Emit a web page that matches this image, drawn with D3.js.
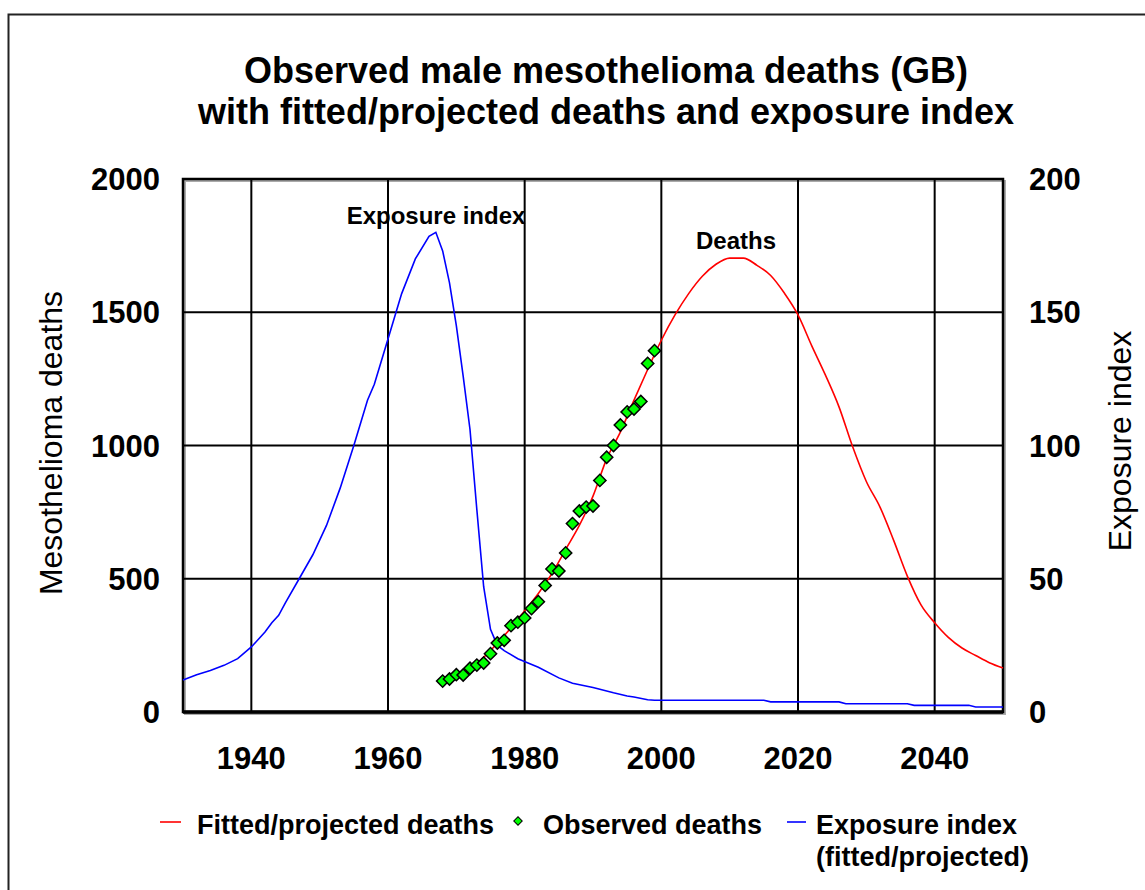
<!DOCTYPE html>
<html>
<head>
<meta charset="utf-8">
<script src="https://cdnjs.cloudflare.com/ajax/libs/d3/7.8.5/d3.min.js"></script>
<style>
  body { margin: 0; background: #fff; }
  text { font-family: "Liberation Sans", Arial, sans-serif; }
</style>
</head>
<body>
<svg id="chart" width="1145" height="890"></svg>
<script>
// observed deaths (green diamonds)
const obsYears = [1968, 1969, 1970, 1971, 1972, 1973, 1974, 1975, 1976, 1977, 1978, 1979, 1980, 1981, 1982, 1983,
  1984, 1985, 1986, 1987, 1988, 1989, 1990, 1991, 1992, 1993, 1994, 1995, 1996, 1997, 1998, 1999];
const obsDeaths = [116, 124, 140, 139, 164, 176, 184, 219, 259, 269, 324, 337, 353, 388, 414, 475,
  537, 529, 597, 707, 754, 769, 773, 869, 956, 1000, 1077, 1126, 1137, 1165, 1308, 1356];

// fitted / projected deaths (red line)
const fitYears = [1968, 1970, 1972, 1974, 1976, 1978, 1980, 1982, 1984, 1986, 1988, 1990, 1992, 1994, 1996, 1998,
  2000, 2002, 2004, 2006, 2008, 2010, 2012, 2014, 2016, 2018, 2020, 2022, 2024, 2026, 2028, 2030, 2032, 2034,
  2036, 2038, 2040, 2042, 2044, 2046, 2048, 2050];
const fitDeaths = [112, 135, 162, 205, 258, 316, 380, 445, 520, 610, 700, 810, 950, 1050, 1170, 1285,
  1395, 1490, 1570, 1635, 1680, 1703, 1703, 1676, 1638, 1572, 1490, 1375, 1265, 1145, 995, 865, 769, 644,
  510, 402, 335, 280, 240, 212, 185, 165];

// exposure index (blue line, right axis)
const expoYears = [1930, 1932, 1934, 1936, 1938, 1940, 1942, 1943, 1944, 1945, 1947, 1949, 1951, 1953, 1955, 1957,
  1958, 1960, 1962, 1964, 1966, 1967, 1968, 1969, 1970, 1971, 1972, 1973, 1974, 1975, 1976, 1977, 1979, 1982,
  1985, 1987, 1990, 1993, 1995, 1996, 1998, 1999, 2015, 2016, 2026, 2027, 2036, 2037, 2045, 2046, 2050];
const expoIndex = [12, 14, 15.6, 17.5, 20, 24.4, 30, 33.5, 36.3, 41, 50, 59, 70, 84, 100, 117,
  123, 140, 157, 170, 178.5, 180, 173, 161, 145, 126, 106, 76, 47, 31, 25, 23, 20, 16.8,
  12.8, 10.8, 9.2, 7.2, 6, 5.6, 4.6, 4.4, 4.4, 3.8, 3.8, 3.1, 3.1, 2.5, 2.5, 1.9, 1.9];

const xTicks = [1940, 1960, 1980, 2000, 2020, 2040];
const leftTicks = [0, 500, 1000, 1500, 2000];
const rightTicks = [0, 50, 100, 150, 200];

const svg = d3.select("#chart");
const pLeft = 183, pRight = 1003, pTop = 179, pBottom = 712;

var x = d3.scaleLinear().domain([1930, 2050]).range([pLeft, pRight]);
var yL = d3.scaleLinear().domain([0, 2000]).range([pBottom, pTop]);
var yR = d3.scaleLinear().domain([0, 200]).range([pBottom, pTop]);

// outer frame
svg.append("rect").attr("x", 8.5).attr("y", 14.5).attr("width", 1200).attr("height", 1000)
  .attr("fill", "none").attr("stroke", "#222").attr("stroke-width", 2);

// title
const title = svg.append("text").attr("text-anchor", "middle")
  .style("font-size", "36px").style("font-weight", "bold");
title.append("tspan").attr("x", 606).attr("y", 83).text("Observed male mesothelioma deaths (GB)");
title.append("tspan").attr("x", 606).attr("y", 124).text("with fitted/projected deaths and exposure index");

// plot shadow + grid
svg.append("rect").attr("x", pLeft + 2).attr("y", pTop + 2).attr("width", pRight - pLeft).attr("height", pBottom - pTop)
  .attr("fill", "none").attr("stroke", "#aaa").attr("stroke-width", 2);

const grid = svg.append("g").attr("stroke", "#000").attr("stroke-width", 2);
grid.selectAll(".vx").data(xTicks).enter().append("line")
  .attr("x1", d => x(d)).attr("x2", d => x(d)).attr("y1", pTop).attr("y2", pBottom);
grid.selectAll(".hy").data(leftTicks).enter().append("line")
  .attr("x1", pLeft).attr("x2", pRight).attr("y1", d => yL(d)).attr("y2", d => yL(d));

svg.append("rect").attr("x", pLeft).attr("y", pTop).attr("width", pRight - pLeft).attr("height", pBottom - pTop)
  .attr("fill", "none").attr("stroke", "#000").attr("stroke-width", 2.5);
svg.append("line").attr("x1", pLeft).attr("x2", pRight).attr("y1", pBottom).attr("y2", pBottom)
  .attr("stroke", "#000").attr("stroke-width", 3.5);

// tick labels
const tickStyle = sel => sel.style("font-size", "31px").style("font-weight", "bold");
svg.selectAll(".xt").data(xTicks).enter().append("text").call(tickStyle)
  .attr("x", d => x(d)).attr("y", 769).attr("text-anchor", "middle").text(d => d);
svg.selectAll(".lt").data(leftTicks).enter().append("text").call(tickStyle)
  .attr("x", 160).attr("y", d => yL(d) + 11).attr("text-anchor", "end").text(d => d);
svg.selectAll(".rt").data(rightTicks).enter().append("text").call(tickStyle)
  .attr("x", 1029).attr("y", d => yR(d) + 11).attr("text-anchor", "start").text(d => d);

// axis titles
svg.append("text").attr("transform", "translate(62,443) rotate(-90)").attr("text-anchor", "middle")
  .style("font-size", "32px").text("Mesothelioma deaths");
svg.append("text").attr("transform", "translate(1131,441) rotate(-90)").attr("text-anchor", "middle")
  .style("font-size", "32px").text("Exposure index");

// lines
const expoData = expoYears.map((yr, i) => ({ yr: yr, v: expoIndex[i] }));
const fitData = fitYears.map((yr, i) => ({ yr: yr, v: fitDeaths[i] }));
const obsData = obsYears.map((yr, i) => ({ yr: yr, v: obsDeaths[i] }));

svg.append("path").datum(expoData)
  .attr("d", d3.line().x(d => x(d.yr)).y(d => yR(d.v)))
  .attr("fill", "none").attr("stroke", "#0000ff").attr("stroke-width", 1.6);
svg.append("path").datum(fitData)
  .attr("d", d3.line().x(d => x(d.yr)).y(d => yL(d.v)).curve(d3.curveMonotoneX))
  .attr("fill", "none").attr("stroke", "#ff0000").attr("stroke-width", 1.6);

const diamond = d3.symbol().type(d3.symbolSquare).size(75);
svg.selectAll(".obs").data(obsData).enter().append("path")
  .attr("d", diamond)
  .attr("transform", d => "translate(" + x(d.yr) + "," + yL(d.v) + ") rotate(45)")
  .attr("fill", "#00ff00").attr("stroke", "#000").attr("stroke-width", 1.5);

// annotations
svg.append("text").attr("x", 436).attr("y", 224).attr("text-anchor", "middle")
  .style("font-size", "24px").style("font-weight", "bold").text("Exposure index");
svg.append("text").attr("x", 736).attr("y", 249).attr("text-anchor", "middle")
  .style("font-size", "24px").style("font-weight", "bold").text("Deaths");

// legend
const lg = svg.append("g").style("font-size", "27px").style("font-weight", "bold");
lg.append("line").attr("x1", 160).attr("x2", 181).attr("y1", 822).attr("y2", 822)
  .attr("stroke", "#ff0000").attr("stroke-width", 1.6);
lg.append("text").attr("x", 197).attr("y", 834).text("Fitted/projected deaths");
lg.append("path").attr("d", d3.symbol().type(d3.symbolSquare).size(36))
  .attr("transform", "translate(518,821) rotate(45)")
  .attr("fill", "#00ff00").attr("stroke", "#000").attr("stroke-width", 1);
lg.append("text").attr("x", 543).attr("y", 834).text("Observed deaths");
lg.append("line").attr("x1", 787).attr("x2", 806).attr("y1", 822).attr("y2", 822)
  .attr("stroke", "#0000ff").attr("stroke-width", 1.6);
lg.append("text").attr("x", 816).attr("y", 834).text("Exposure index");
lg.append("text").attr("x", 816).attr("y", 866).text("(fitted/projected)");
</script>
</body>
</html>
